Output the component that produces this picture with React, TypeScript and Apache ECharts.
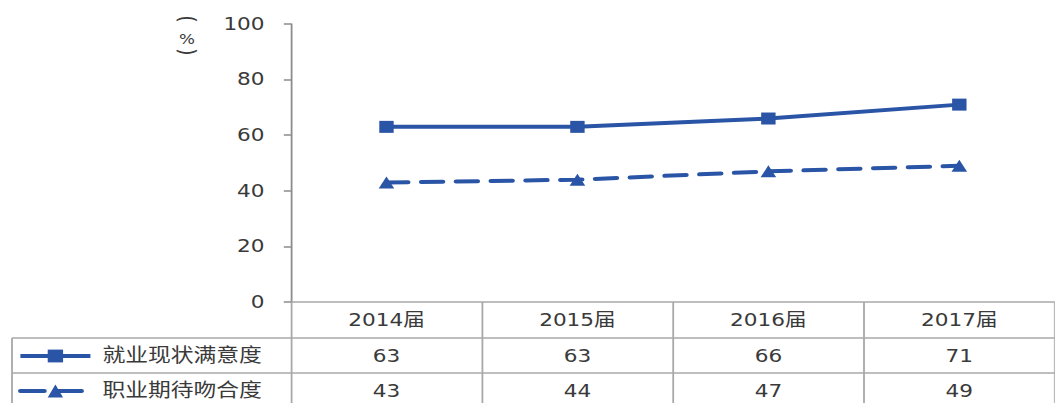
import React, { useEffect, useRef } from "react";
import * as echarts from "echarts";

// ---- data ----
const categories = ["2014届", "2015届", "2016届", "2017届"];
const seriesNames = ["就业现状满意度", "职业期待吻合度"];
const satisfaction = [63, 63, 66, 71];
const expectation = [43, 44, 47, 49];
const yMin = 0;
const yMax = 100;
const yStep = 20;
const unitLabel = "%";

// ---- layout (page px; chart is drawn horizontally stretched) ----
const S = 1.2;
const PAGE_W = 1055;
const PAGE_H = 403;
const W = PAGE_W / S;
const px = (x: number) => x / S;

const BLUE = "#2A54A6";
const AXIS_GRAY = "#8c8c8c";
const TABLE_GRAY = "#a8a8a8";
const TEXT = "#3a3a3a";
const FONT = '"DejaVu Sans", "Noto Sans CJK SC", sans-serif';

export default function App() {
  const ref = useRef<HTMLDivElement>(null);

  useEffect(() => {
    if (!ref.current) return;
    const chart = echarts.init(ref.current, undefined, { renderer: "svg" });
    const gridLeft = px(291);
    const axisTop = 302;
    const row1 = 338;
    const row2 = 373;

    const labelStyle = { fontSize: 18, color: TEXT, fontFamily: FONT };
    const legendText = { ...labelStyle, fontSize: 19, lineHeight: 21, padding: [0, 0, 0, 5] };

    chart.setOption({
      animation: false,
      backgroundColor: "#ffffff",
      grid: { left: gridLeft, right: 0, top: 24, bottom: PAGE_H - axisTop, containLabel: false },
      legend: [
        {
          data: [seriesNames[0]],
          left: px(18),
          top: 345.5,
          padding: 0,
          itemWidth: px(70),
          itemHeight: 16,
          textStyle: legendText,
          lineStyle: { width: 4, type: "solid" },
          selectedMode: false,
        },
        {
          data: [seriesNames[1]],
          left: px(18),
          top: 380.5,
          padding: 0,
          itemWidth: px(70),
          itemHeight: 16,
          textStyle: legendText,
          lineStyle: { width: 4, type: [20, 11], cap: "round" },
          selectedMode: false,
        },
      ],
      xAxis: [
        {
          type: "category",
          data: categories,
          boundaryGap: true,
          position: "bottom",
          axisLine: { show: true, lineStyle: { color: TABLE_GRAY, width: 1.5 } },
          axisTick: {
            show: true,
            inside: false,
            length: PAGE_H - axisTop,
            alignWithLabel: false,
            interval: 0,
            lineStyle: { color: TABLE_GRAY, width: 1.5 },
          },
          axisLabel: { ...labelStyle, margin: 9, interval: 0 },
          splitLine: { show: false },
        },
        {
          type: "category",
          data: categories,
          position: "bottom",
          offset: row1 - axisTop,
          axisLine: { show: false },
          axisTick: { show: false },
          axisLabel: {
            ...labelStyle,
            margin: 9,
            interval: 0,
            formatter: (_v: string, i: number) => String(satisfaction[i]),
          },
          splitLine: { show: false },
        },
        {
          type: "category",
          data: categories,
          position: "bottom",
          offset: row2 - axisTop,
          axisLine: { show: false },
          axisTick: { show: false },
          axisLabel: {
            ...labelStyle,
            margin: 9,
            interval: 0,
            formatter: (_v: string, i: number) => String(expectation[i]),
          },
          splitLine: { show: false },
        },
      ],
      yAxis: {
        type: "value",
        min: yMin,
        max: yMax,
        interval: yStep,
        axisLine: { show: true, lineStyle: { color: AXIS_GRAY, width: 1.5 } },
        axisTick: { show: true, inside: false, length: 6, lineStyle: { color: AXIS_GRAY, width: 1.5 } },
        axisLabel: { ...labelStyle, margin: 22 },
        splitLine: { show: false },
      },
      graphic: [
        {
          type: "line",
          shape: { x1: px(12), y1: row1, x2: W, y2: row1 },
          style: { stroke: TABLE_GRAY, lineWidth: 1.5 },
          silent: true,
        },
        {
          type: "line",
          shape: { x1: px(12), y1: row2, x2: W, y2: row2 },
          style: { stroke: TABLE_GRAY, lineWidth: 1.5 },
          silent: true,
        },
        {
          type: "line",
          shape: { x1: px(12), y1: row1, x2: px(12), y2: PAGE_H },
          style: { stroke: TABLE_GRAY, lineWidth: 1.5 },
          silent: true,
        },
        {
          type: "text",
          x: px(187),
          y: 19,
          rotation: -Math.PI / 2,
          style: { text: "(", fontSize: 19, fill: TEXT, fontFamily: FONT, align: "center", verticalAlign: "middle" },
          silent: true,
        },
        {
          type: "text",
          x: px(187),
          y: 39,
          style: { text: unitLabel, fontSize: 14, fill: TEXT, fontFamily: FONT, align: "center", verticalAlign: "middle" },
          silent: true,
        },
        {
          type: "text",
          x: px(187),
          y: 52,
          rotation: -Math.PI / 2,
          style: { text: ")", fontSize: 19, fill: TEXT, fontFamily: FONT, align: "center", verticalAlign: "middle" },
          silent: true,
        },
      ],
      series: [
        {
          name: seriesNames[0],
          type: "line",
          data: satisfaction,
          xAxisIndex: 0,
          yAxisIndex: 0,
          symbol: "rect",
          symbolSize: [12, 12],
          showSymbol: true,
          lineStyle: { color: BLUE, width: 4 },
          itemStyle: { color: BLUE },
        },
        {
          name: seriesNames[1],
          type: "line",
          data: expectation,
          xAxisIndex: 0,
          yAxisIndex: 0,
          symbol: "triangle",
          symbolSize: [13, 12],
          showSymbol: true,
          lineStyle: { color: BLUE, width: 4, type: [18, 11], cap: "round" },
          itemStyle: { color: BLUE },
        },
      ],
    });
    return () => chart.dispose();
  }, []);

  return (
    <div
      style={{
        position: "fixed",
        left: 0,
        top: 0,
        width: PAGE_W,
        height: PAGE_H,
        overflow: "hidden",
        background: "#ffffff",
      }}
    >
      <div
        ref={ref}
        style={{
          width: W,
          height: PAGE_H,
          transform: `scaleX(${S})`,
          transformOrigin: "0 0",
        }}
      />
    </div>
  );
}
